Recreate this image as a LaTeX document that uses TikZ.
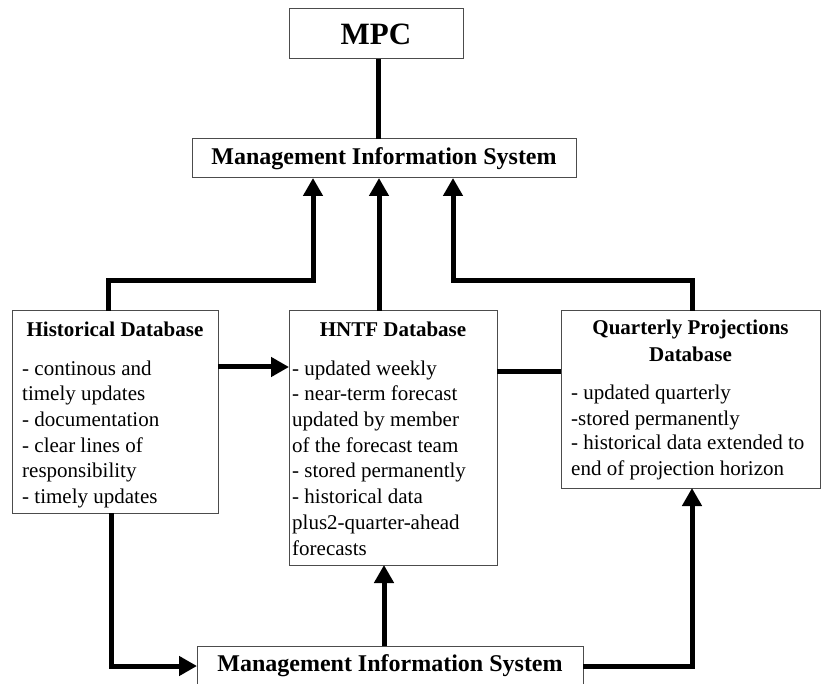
\documentclass[tikz,border=0pt]{standalone}
\usepackage{fontspec}
\setmainfont{Liberation Serif}
\usetikzlibrary{arrows.meta}
\begin{document}
\begin{tikzpicture}[x=1pt,y=-1pt,
  box/.style={draw=black!70, line width=1pt, anchor=north west, inner sep=0pt, outer sep=0pt},
  hbox/.style={draw=black!70, line width=1pt, inner sep=0pt, outer sep=0pt, font=\fontsize{24pt}{24pt}\selectfont\bfseries},
  body/.style={font=\fontsize{21pt}{25.7pt}\selectfont, align=left, anchor=base west, inner sep=0pt},
  title/.style={font=\fontsize{21pt}{27pt}\selectfont\bfseries, align=center, anchor=base, inner sep=0pt},
  conn/.style={line width=5pt, line join=miter},
  arr/.style={conn, -{Triangle[length=18pt,width=19pt]}}]
\useasboundingbox (0,0) rectangle (822,684);

% boxes
\node[hbox, minimum width=174pt, minimum height=50pt, font=\fontsize{31pt}{31pt}\selectfont\bfseries] (mpc) at (376,34) {MPC};
\node[hbox, minimum width=384pt, minimum height=39pt] (mis) at (384,158.5) {Management Information System};
\node[hbox, minimum width=386pt, minimum height=40pt] (mis2) at (390,666) {Management Information System};

\node[box, minimum width=206pt, minimum height=202pt] (hist) at (12,311) {};
\node[box, minimum width=208pt, minimum height=254pt] (hntf) at (289,311) {};
\node[box, minimum width=259pt, minimum height=177pt] (qp) at (561,311) {};

% texts (base anchor = baseline of the last line)
\node[title] (histT) at (115,337) {Historical Database};
\node[body] (histB) at (22,503.5) {- continous and\\timely updates\\- documentation\\- clear lines of\\responsibility\\- timely updates};

\node[title] (hntfT) at (393,337) {HNTF Database};
\node[body] (hntfB) at (292,555) {- updated weekly\\- near-term forecast\\updated by member\\of the forecast team\\- stored permanently\\- historical data\\plus2-quarter-ahead\\forecasts};

\node[title] (qpT) at (690.5,362) {Quarterly Projections\\Database};
\node[body, font=\fontsize{21pt}{25pt}\selectfont] (qpB) at (571,475) {- updated quarterly\\-stored permanently\\- historical data extended to\\end of projection horizon};

% joints
\coordinate (j1) at (313,281);
\coordinate (j2) at (453,281);
\coordinate (l2) at (530,372);

% connectors
\draw[conn] ([xshift=2pt]mpc.south) -- ([xshift=2pt]mpc.south |- mis.north);
\draw[arr] ([xshift=-7pt]hist.north) |- (j1) -- (j1 |- mis.south);
\draw[arr] ([xshift=-14pt]hntf.north) -- ([xshift=-14pt]hntf.north |- mis.south);
\draw[arr] ([xshift=1.5pt]qp.north) |- (j2) -- (j2 |- mis.south);
\draw[arr] ([yshift=45pt]hist.east) -- ([yshift=45pt]hist.east -| hntf.west);
\draw[conn] (hntf.east |- l2) -- (qp.west |- l2);
\draw[arr] ([xshift=-4pt]hist.south) |- (mis2.west);
\draw[arr] ([xshift=-9pt]hntf.south |- mis2.north) -- ([xshift=-9pt]hntf.south);
\draw[arr] (mis2.east) -| ([xshift=1.5pt]qp.south);
\end{tikzpicture}
\end{document}
